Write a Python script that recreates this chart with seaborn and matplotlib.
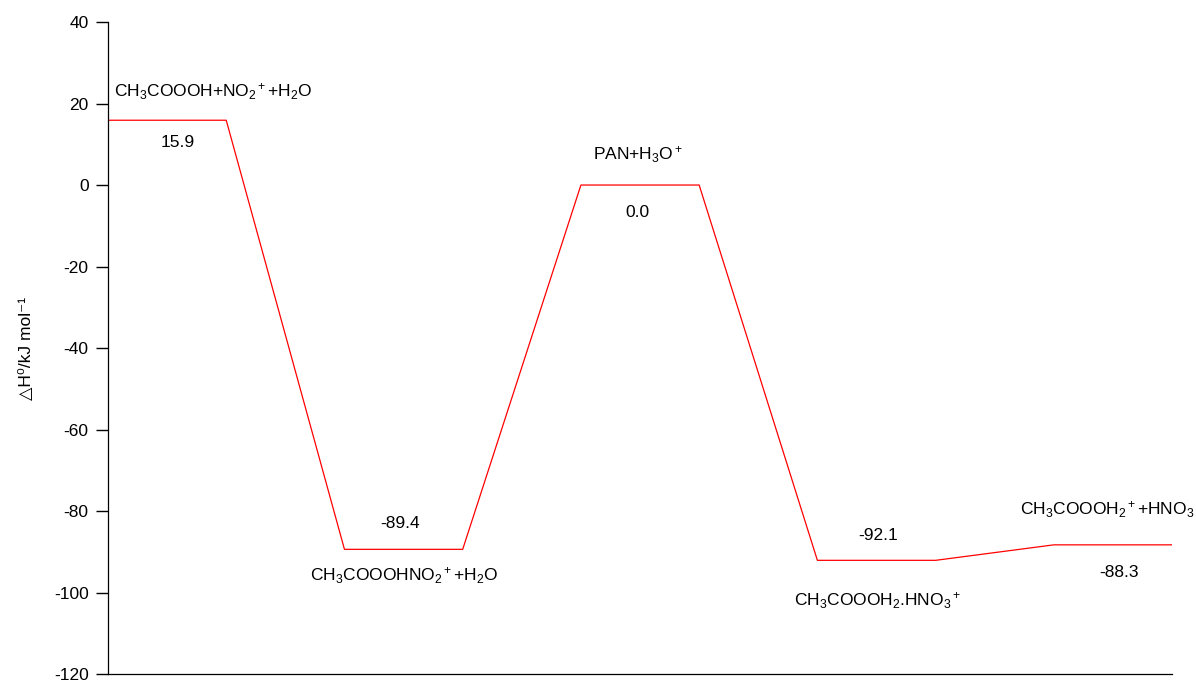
import numpy as np
import pandas as pd
import seaborn as sns
import matplotlib.pyplot as plt

# energy levels (kJ/mol) of each species along the reaction path
species = [r'CH$_3$COOOH+NO$_2$$^+$+H$_2$O',
           r'CH$_3$COOOHNO$_2$$^+$+H$_2$O',
           r'PAN+H$_3$O$^+$',
           r'CH$_3$COOOH$_2$.HNO$_3$$^+$',
           r'CH$_3$COOOH$_2$$^+$+HNO$_3$']
energies = [15.9, -89.4, 0.0, -92.1, -88.3]
value_labels = ['15.9', '-89.4', '0.0', '-92.1', '-88.3']

sns.set_style('ticks')
plt.rcParams['font.family'] = ['Liberation Sans', 'DejaVu Sans']
plt.rcParams['mathtext.fontset'] = 'custom'
plt.rcParams['mathtext.rm'] = 'Liberation Sans'
plt.rcParams['mathtext.it'] = 'Liberation Sans'
plt.rcParams['mathtext.default'] = 'regular'
plt.rcParams['axes.unicode_minus'] = False
for k in ['text.color', 'axes.labelcolor', 'xtick.color', 'ytick.color']:
    plt.rcParams[k] = 'black'

# each level spans one unit, with one unit gap between levels
path = pd.DataFrame({
    'x': np.arange(2 * len(energies)),
    'y': np.repeat(energies, 2),
})

fig = plt.figure(figsize=(11.96, 6.82), dpi=100)
ax = fig.add_axes([0.0903, 0.0117, 0.8897, 0.9560])
sns.lineplot(data=path, x='x', y='y', sort=False, estimator=None,
             color='red', linewidth=0.9, ax=ax)
sns.despine(ax=ax)

ax.set_xlim(0, 2 * len(energies) - 1)
ax.set_ylim(-120, 40)
ax.set_yticks(range(-120, 41, 20))
ax.set_xticks([])
ax.set_xlabel('')
ax.set_ylabel('\u25b3H\u2070/kJ mol\u207b\u00b9', fontsize=12.5, labelpad=14)
ax.tick_params(axis='y', which='major', direction='out', length=9, width=1.0,
               labelsize=12.5, pad=5, color='black', left=True, right=False)
for s in ['left', 'bottom']:
    ax.spines[s].set_color('black')
    ax.spines[s].set_linewidth(0.9)

# label offsets (name above/below, value above/below) per level
name_pos = [(0.89, 22.9), (2.5, -95.8), (4.48, 7.5), (6.51, -102.0), (8.45, -79.7)]
value_pos = [(0.59, 10.4), (2.47, -83.1), (4.48, -6.7), (6.51, -86.1), (8.55, -95.1)]
for name, (nx, ny), val, (vx, vy) in zip(species, name_pos, value_labels, value_pos):
    ax.text(nx, ny, name, ha='center', va='center', fontsize=12.5, clip_on=False)
    ax.text(vx, vy, val, ha='center', va='center', fontsize=12.5)

fig.savefig('out.png', dpi=100)
